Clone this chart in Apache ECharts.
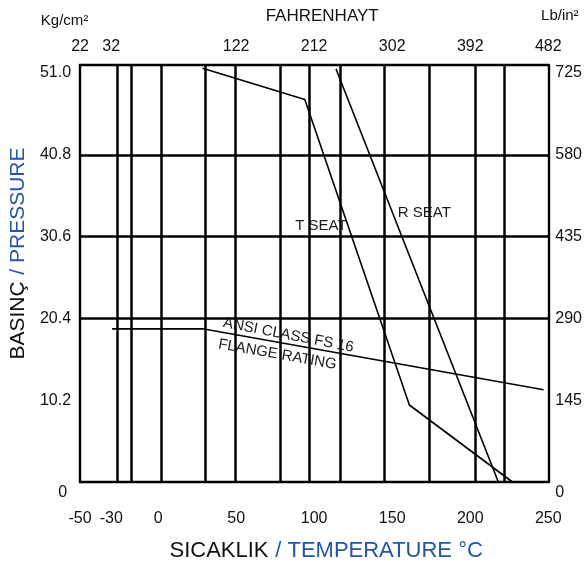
<!DOCTYPE html>
<html>
<head>
<meta charset="utf-8">
<script src="https://cdn.jsdelivr.net/npm/echarts@6/dist/echarts.min.js"></script>
<style>
  html, body { margin: 0; padding: 0; background: #fff; }
  #chart { width: 585px; height: 567px; }
</style>
</head>
<body>
<div id="chart"></div>
<script>
// Temperature (°C) ticks along the bottom edge
const celsiusTicks = [-50, -30, 0, 50, 100, 150, 200, 250];
// Fahrenheit labels along the top edge and the °C ticks they sit over
const fahrenheitPositions = [-50, -30, 50, 100, 150, 200, 250];
const fahrenheitLabels = ['22', '32', '122', '212', '302', '392', '482'];
// Pressure ticks: kg/cm² on the left, lb/in² on the right
const kgTicks = [0, 10.2, 20.4, 30.6, 40.8, 51.0];
const psiTicks = [0, 145, 290, 435, 580, 725];
// Grid lines of the chart (°C and kg/cm²)
const verticalGrid = [-26, -17, 2, 30, 49.5, 78, 97, 117, 145, 174, 203, 222];
const horizontalGrid = [20.4, 30.6, 40.8];
// Pressure–temperature curves [°C, kg/cm²]
const tSeat = [[28.5, 51.6], [94, 47.7], [161, 9.6], [227, 0]];
const rSeat = [[114, 51.5], [218, 0]];
const ansiRating = [[-29.5, 19.1], [28.5, 19.1], [247, 11.5]];

const KG_MAX = 52;
const PSI_MAX = KG_MAX * 725 / 51;
const FONT = 'Liberation Sans, Arial, Helvetica, sans-serif';
const BLUE = '#2356a3';
const INK = '#111';

const chart = echarts.init(document.getElementById('chart'), null, { renderer: 'canvas' });

const frameLine = { show: true, onZero: false, lineStyle: { color: '#000', width: 2.4 } };
const curveStyle = { color: '#000', width: 1.6 };

function annotation(coord, text, rotate) {
  return {
    coord: coord,
    symbol: 'circle',
    symbolSize: 0,
    label: {
      show: true, position: 'inside', formatter: text, rotate: rotate || 0,
      color: '#1a1a1a', fontSize: 15, fontFamily: FONT
    }
  };
}

chart.setOption({
  animation: false,
  backgroundColor: '#fff',
  grid: { left: 77, right: 32, top: 65, bottom: 80, containLabel: false },
  xAxis: [
    {
      type: 'value', position: 'bottom', min: -50, max: 250,
      axisLine: frameLine, axisTick: { show: false }, splitLine: { show: false },
      axisLabel: {
        customValues: celsiusTicks, margin: 29, color: INK, fontSize: 16, fontFamily: FONT
      },
      name: '{a|SICAKLIK}  {b|/ TEMPERATURE °C}',
      nameLocation: 'middle', nameGap: 58,
      nameTextStyle: {
        padding: [0, 0, 0, 24],
        rich: {
          a: { color: INK, fontSize: 22, fontFamily: FONT },
          b: { color: BLUE, fontSize: 22, fontFamily: FONT }
        }
      }
    },
    {
      type: 'value', position: 'top', min: -50, max: 250,
      axisLine: frameLine, axisTick: { show: false }, splitLine: { show: false },
      axisLabel: {
        customValues: fahrenheitPositions, margin: 10, color: INK, fontSize: 16, fontFamily: FONT,
        formatter: function (v) {
          const i = fahrenheitPositions.indexOf(v);
          return i >= 0 ? fahrenheitLabels[i] : '';
        }
      },
      name: 'FAHRENHAYT', nameLocation: 'middle', nameGap: 40,
      nameTextStyle: { color: INK, fontSize: 17, fontFamily: FONT, padding: [0, 0, 0, 16] }
    }
  ],
  yAxis: [
    {
      type: 'value', position: 'left', min: 0, max: KG_MAX,
      axisLine: frameLine, axisTick: { show: false }, splitLine: { show: false },
      axisLabel: {
        customValues: kgTicks, margin: 9, color: INK, fontSize: 16, fontFamily: FONT,
        formatter: function (v) { return v === 0 ? '{z|0}' : v.toFixed(1); },
        rich: { z: { padding: [22, 4, 0, 0], fontSize: 16, color: INK, fontFamily: FONT } }
      },
      name: '{a|BASINÇ}  {b|/ PRESSURE}',
      nameLocation: 'middle', nameGap: 50,
      nameTextStyle: {
        padding: [0, 0, 0, 40],
        rich: {
          a: { color: INK, fontSize: 21, fontFamily: FONT },
          b: { color: BLUE, fontSize: 21, fontFamily: FONT }
        }
      }
    },
    {
      type: 'value', position: 'right', min: 0, max: PSI_MAX,
      axisLine: frameLine, axisTick: { show: false }, splitLine: { show: false },
      axisLabel: {
        customValues: psiTicks, margin: 7, color: INK, fontSize: 16, fontFamily: FONT,
        formatter: function (v) { return v === 0 ? '{z|0}' : String(v); },
        rich: { z: { padding: [22, 0, 0, 0], fontSize: 16, color: INK, fontFamily: FONT } }
      },
      name: 'Lb/in²', nameLocation: 'end', nameGap: 42,
      nameTextStyle: { color: INK, fontSize: 15, fontFamily: FONT, padding: [0, 0, 0, 23] }
    },
    {
      // unit caption above the kg/cm² scale
      type: 'value', position: 'left', min: 0, max: KG_MAX,
      axisLine: { show: false, onZero: false }, axisTick: { show: false },
      axisLabel: { show: false }, splitLine: { show: false },
      name: 'Kg/cm²', nameLocation: 'end', nameGap: 37,
      nameTextStyle: { color: INK, fontSize: 15, fontFamily: FONT, padding: [0, 31, 0, 0] }
    }
  ],
  series: [
    {
      name: 'ANSI CLASS FS 16', type: 'line', data: ansiRating,
      showSymbol: false, lineStyle: curveStyle, z: 3,
      markLine: {
        silent: true, symbol: 'none', animation: false,
        label: { show: false },
        lineStyle: { color: '#000', width: 2.5, type: 'solid' },
        emphasis: { disabled: true },
        data: verticalGrid.map(function (v) { return { xAxis: v }; })
          .concat(horizontalGrid.map(function (v) { return { yAxis: v }; }))
      },
      markPoint: {
        silent: true,
        data: [
          annotation([83.5, 18.3], 'ANSI CLASS FS 16', -11),
          annotation([76.5, 15.9], 'FLANGE RATING', -10)
        ]
      }
    },
    {
      name: 'T SEAT', type: 'line', data: tSeat,
      showSymbol: false, lineStyle: curveStyle, z: 3,
      markPoint: { silent: true, data: [annotation([104.3, 31.9], 'T SEAT')] }
    },
    {
      name: 'R SEAT', type: 'line', data: rSeat,
      showSymbol: false, lineStyle: curveStyle, z: 3,
      markPoint: { silent: true, data: [annotation([170.6, 33.6], 'R SEAT')] }
    }
  ]
});
</script>
</body>
</html>
